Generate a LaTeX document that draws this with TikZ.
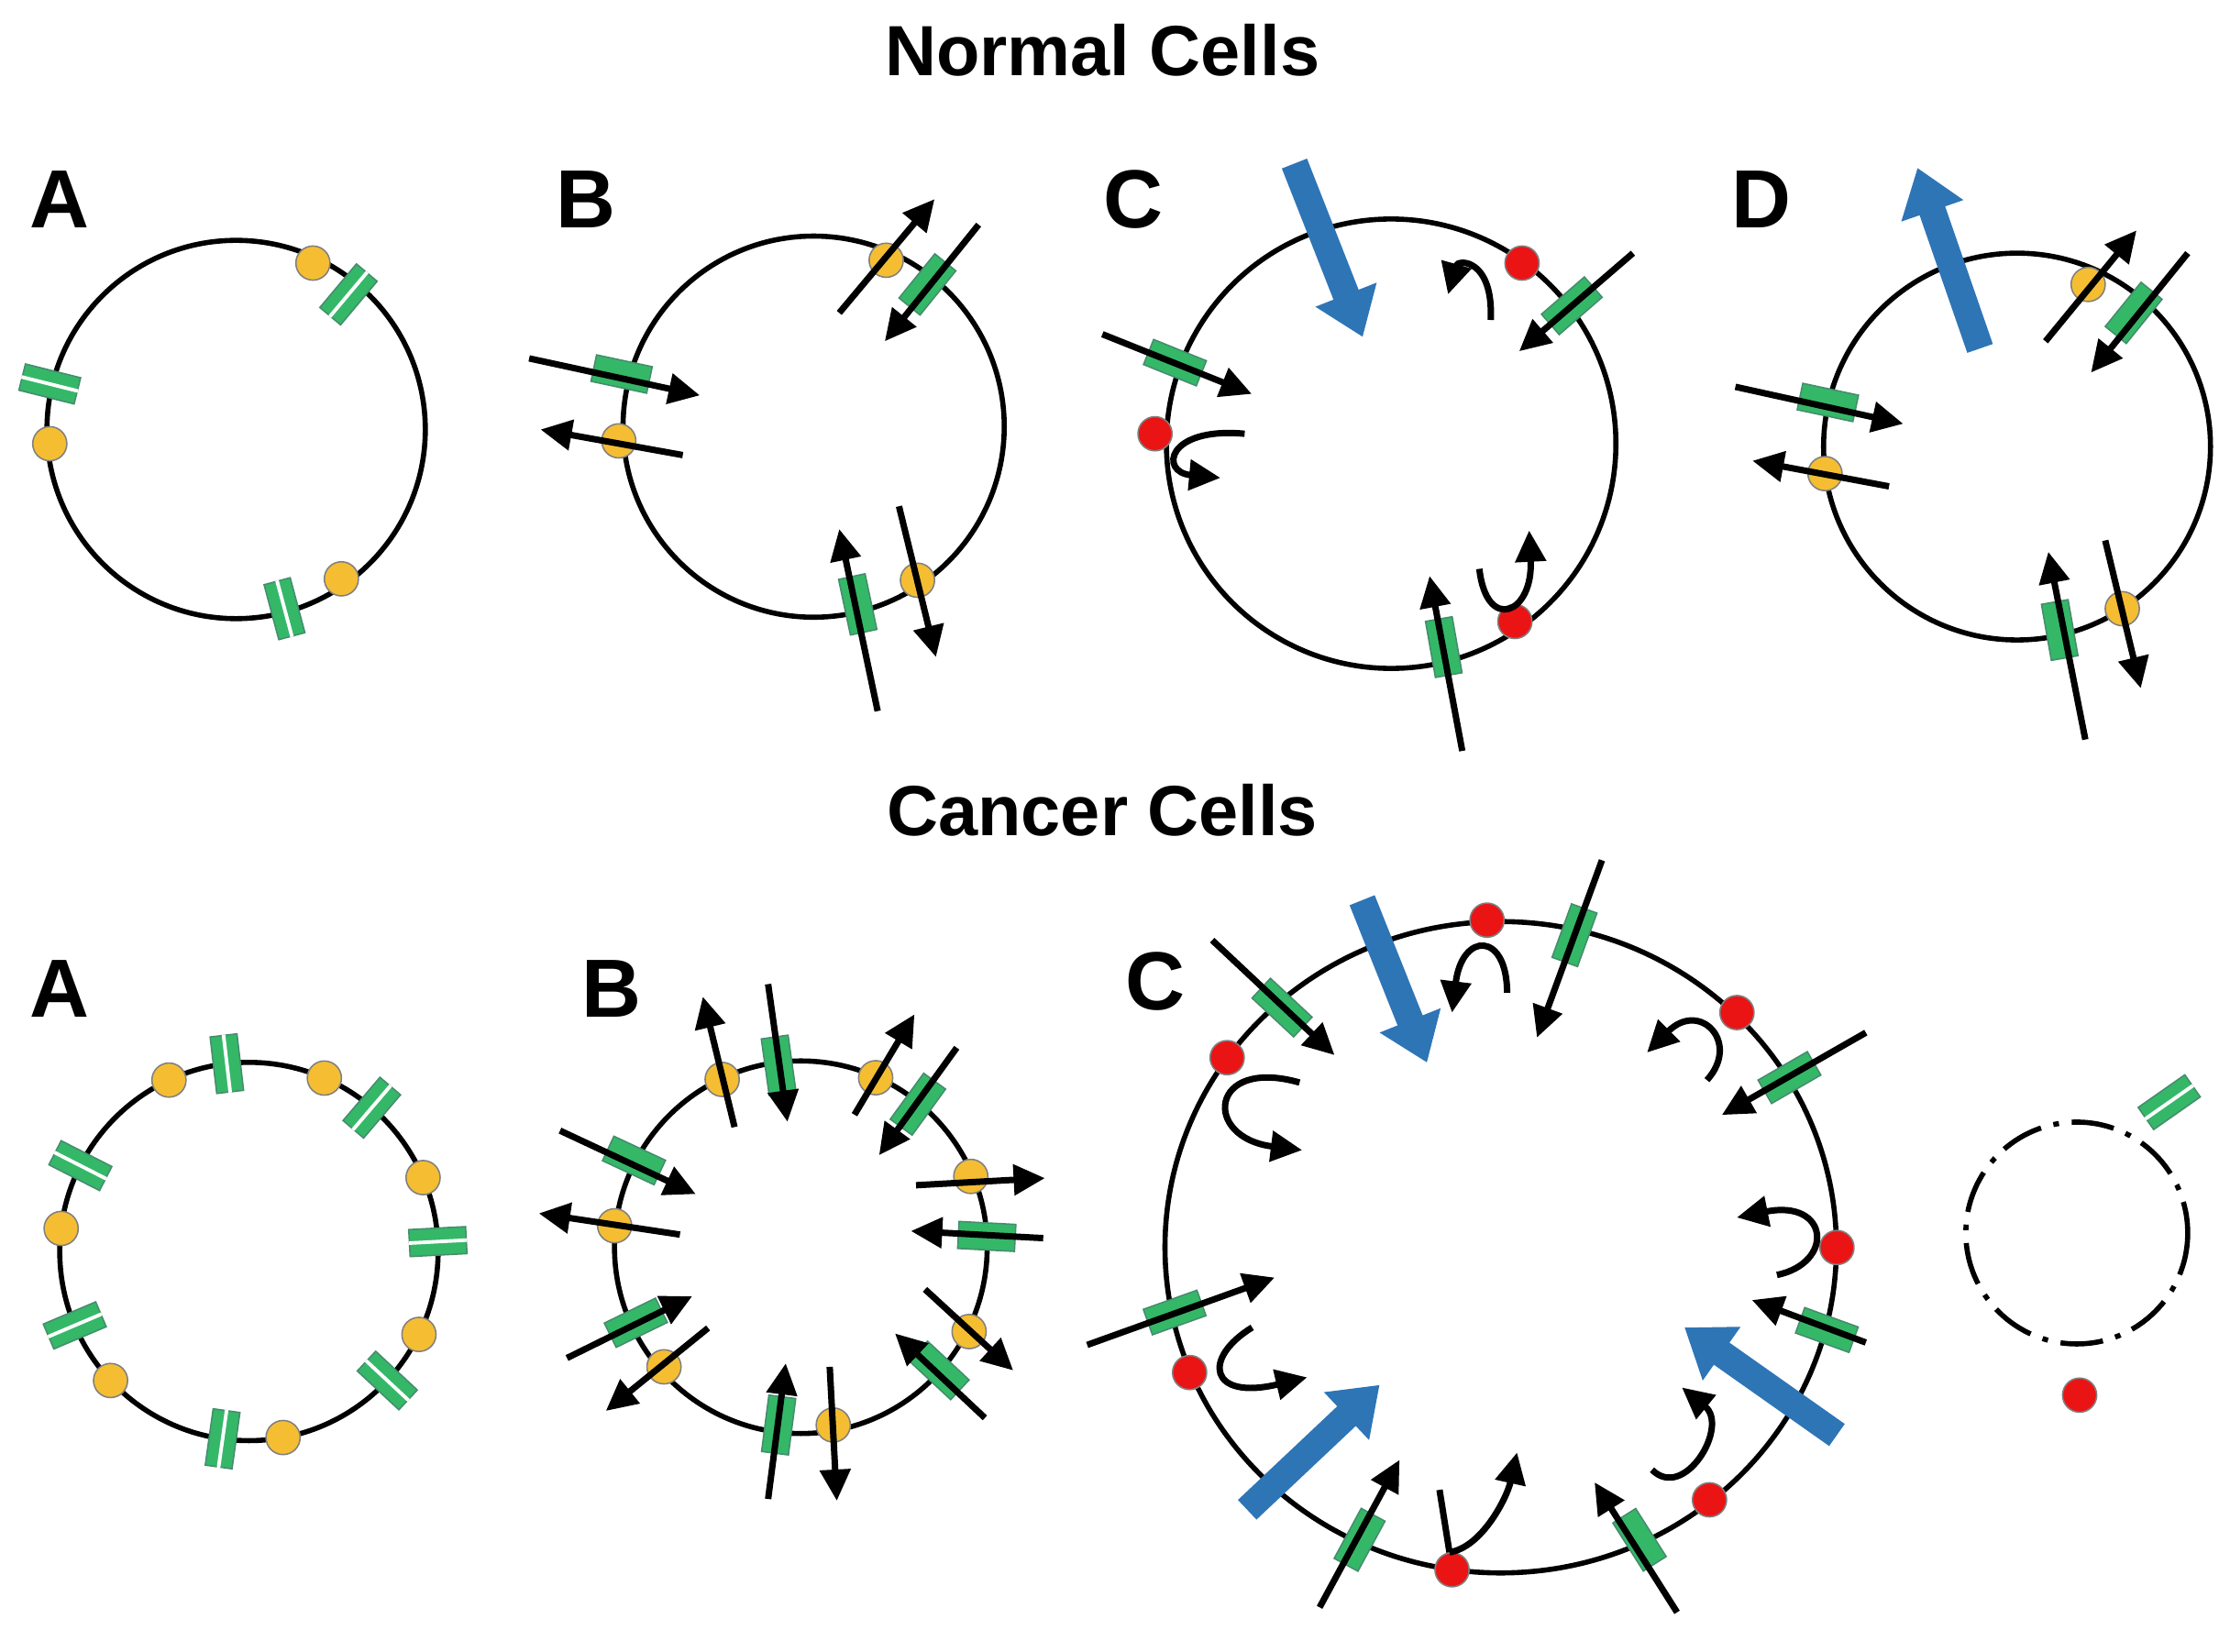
\documentclass[tikz,border=0pt]{standalone}
\usepackage{fontspec}
\setmainfont{Liberation Sans}
\usetikzlibrary{arrows.meta}
\definecolor{gr}{RGB}{52,184,104}
\definecolor{grb}{RGB}{70,140,110}
\definecolor{ye}{RGB}{245,190,50}
\definecolor{re}{RGB}{235,20,20}
\definecolor{bl}{RGB}{46,117,182}
\tikzset{
 chan/.style={rectangle,fill=gr,draw=grb,line width=1pt,minimum width=40pt,minimum height=19pt,inner sep=0pt},
 ydot/.style={circle,fill=ye,draw=gray,line width=1pt,minimum size=24pt,inner sep=0pt},
 rdot/.style={circle,fill=re,draw=gray,line width=1pt,minimum size=24pt,inner sep=0pt},
 arr/.style={line width=4.5pt,-{Triangle[length=22pt,width=21pt]}},
 barr/.style={bl,line width=19pt,-{Triangle[length=32pt,width=44pt]}},
 mem/.style={line width=3.6pt},
 lab/.style={font=\fontsize{58}{62}\selectfont\bfseries},
 ttl/.style={font=\fontsize{50}{56}\selectfont\bfseries}
}
\newcommand\ch[4]{\node[chan,rotate=#4] (#1) at ({#2},{#3}) {};}
\newcommand\gch[4]{\ch{#1}{#2}{#3}{#4}\draw[white,line width=2.5pt] (#1.west)--(#1.east);}
\newcommand\yd[3]{\node[ydot] (#1) at ({#2},{#3}) {};}
\newcommand\rd[3]{\node[rdot] (#1) at ({#2},{#3}) {};}
\begin{document}
\begin{tikzpicture}[x=1pt,y=-1pt]
\useasboundingbox[fill=white] (0,0) rectangle (1560,1161);
% titles
\node[ttl] (t1) at (775,35) {Normal Cells};
\node[ttl] (t2) at (775,570) {Cancer Cells};
\node[lab] (la1) at (42,140) {A};
\node[lab] (lb1) at (412,140) {B};
\node[lab] (lc1) at (797,140) {C};
\node[lab] (ld1) at (1238,140) {D};
\node[lab] (la2) at (42,695) {A};
\node[lab] (lb2) at (430,695) {B};
\node[lab] (lc2) at (812,690) {C};
% membranes
\draw[mem] (166,302) circle [radius=133];
\draw[mem] (572,300) circle [radius=134];
\draw[mem] (978,312) circle [radius=158];
\draw[mem] (1418,314) circle [radius=136];
\draw[mem] (175,880) circle [radius=133];
\draw[mem] (563,877) circle [radius=131];
\draw[mem] (1055,877) ellipse [x radius=236,y radius=229];
\draw[line width=3.6pt,dash pattern=on 30pt off 9pt on 4pt off 9pt] (1460,867) circle [radius=78];
% ---------- top A
\yd{a1}{220}{185} \gch{a2}{245}{207}{50}
\gch{a3}{35}{270}{166} \yd{a4}{35}{312}
\gch{a5}{200}{428}{-75} \yd{a6}{240}{407}
% ---------- top B
\ch{b1}{437}{263}{-12} \yd{b2}{435}{310}
\yd{b3}{623}{183} \ch{b4}{652}{200}{51}
\ch{b5}{603}{425}{102} \yd{b6}{645}{408}
\draw[arr] (372,252) -- (492,278);
\draw[arr] (480,320) -- (380,302);
\draw[arr] (590,220) -- (657,140);
\draw[arr] (688,158) -- (622,240);
\draw[arr] (617,500) -- (590,372);
\draw[arr] (632,356) -- (658,462);
% ---------- top C
\ch{c1}{826}{255}{-22} \rd{c2}{812}{305}
\rd{c3}{1070}{185} \ch{c4}{1105}{215}{41}
\ch{c5}{1015}{455}{100} \rd{c6}{1065}{437}
\draw[barr] (910,115) -- (958,237);
\draw[arr] (775,235) -- (880,277);
\draw[arr] (875,305) .. controls (820,300) and (815,332) .. (858,336);
\draw[arr] (1048,225) .. controls (1050,182) and (1025,182) .. (1018,207);
\draw[arr] (1148,178) -- (1068,247);
\draw[arr] (1028,528) -- (1005,405);
\draw[arr] (1040,400) .. controls (1045,445) and (1078,432) .. (1075,373);
% ---------- top D
\ch{d1}{1285}{283}{-12} \yd{d2}{1283}{333}
\yd{d3}{1468}{200} \ch{d4}{1500}{220}{51}
\ch{d5}{1448}{443}{100} \yd{d6}{1492}{428}
\draw[barr] (1392,245) -- (1348,118);
\draw[arr] (1220,272) -- (1338,298);
\draw[arr] (1328,342) -- (1232,324);
\draw[arr] (1438,240) -- (1502,162);
\draw[arr] (1538,178) -- (1470,262);
\draw[arr] (1466,520) -- (1440,388);
\draw[arr] (1480,380) -- (1505,484);
% ---------- bottom A
\foreach \a [count=\i] in {96.7,49.5,3,-43,-98,-157,153}
  {\gch{ga\i}{175+133*cos(\a)}{880-133*sin(\a)}{\a}}
\foreach \a [count=\i] in {115,66.5,23,-26,-79.6,-137,173}
  {\yd{ya\i}{175+133*cos(\a)}{880-133*sin(\a)}}
% ---------- bottom B
\yd{e1}{507.7}{759} \ch{e2}{547.4}{749}{-82}
\yd{e3}{615.6}{757.8} \ch{e4}{645.3}{776.4}{54}
\yd{e5}{682.5}{827.2} \ch{e6}{693.7}{869.4}{-3}
\yd{e7}{681.3}{936.3} \ch{e8}{660.2}{963.6}{-43}
\yd{e9}{585.8}{1002} \ch{e10}{547.4}{1002}{82.6}
\yd{e11}{466.8}{961.1} \ch{e12}{447}{930.1}{26}
\yd{e13}{432.1}{861.9} \ch{e14}{445.7}{816}{-25}
\draw[arr] (516.4,792.5) -- (494.1,700.8);
\draw[arr] (540,692) -- (553.6,788.8);
\draw[arr] (600.7,783.8) -- (642.9,713.2);
\draw[arr] (672.6,736.7) -- (618,812.3);
\draw[arr] (644,833.4) -- (734.6,828.4);
\draw[arr] (733.4,870.6) -- (640.4,865.6);
\draw[arr] (650.3,906.6) -- (712.3,963.6);
\draw[arr] (692.4,997) -- (629.2,937.6);
\draw[arr] (583.3,961.1) -- (588.3,1055.3);
\draw[arr] (540,1054) -- (552.4,958.6);
\draw[arr] (497.8,933.8) -- (425.9,992.1);
\draw[arr] (398.6,954.9) -- (486.6,911.5);
\draw[arr] (478,868.1) -- (378.8,853.2);
\draw[arr] (393.7,795) -- (489.1,839.6);
% ---------- bottom C
\ch{f1}{901.3}{708.5}{-43} \rd{f2}{862.7}{743.7}
\rd{f3}{1045.4}{647} \ch{f4}{1106.9}{657.6}{70}
\rd{f5}{1221.1}{712} \ch{f6}{1258}{757.7}{30}
\rd{f7}{1291.4}{877.2} \ch{f8}{1284.3}{935.2}{-20}
\rd{f9}{1201.8}{1054.6} \ch{f10}{1152.6}{1082.7}{-57.6}
\rd{f11}{1020.8}{1103.8} \ch{f12}{955.8}{1082.7}{61.6}
\rd{f13}{836.3}{965.1} \ch{f14}{825.8}{922.9}{19.6}
\draw[barr] (957.6,633) -- (1003.2,747.2);
\draw[barr] (1291.4,1009) -- (1184.2,933.4);
\draw[barr] (876.8,1061.6) -- (969.9,973.8);
\draw[arr] (852.2,661.1) -- (938.2,741.9);
\draw[arr] (913.6,761.2) .. controls (850,743) and (845,800) .. (915.4,808.7);
\draw[arr] (1059.5,698) .. controls (1059.5,655) and (1027.8,655) .. (1020.8,712);
\draw[arr] (1126.2,604.9) -- (1080.5,729.6);
\draw[arr] (1200,759.5) .. controls (1224,733) and (1195,703) .. (1157.9,740.1);
\draw[arr] (1311.7,726.1) -- (1210.5,784);
\draw[arr] (1249.2,896.5) .. controls (1290,888) and (1286,843) .. (1221,856.1);
\draw[arr] (1311.7,944) -- (1231.6,914.1);
\draw[arr] (1161.4,1033.5) .. controls (1184,1056) and (1216,1003) .. (1182.4,975.6);
\draw[arr] (1179,1133.7) -- (1121,1042.3);
\draw[line width=4.5pt] (1012,1047.6) -- (1019,1091.5);
\draw[arr] (1019,1091.5) .. controls (1041.9,1088) and (1059.5,1052.9) .. (1066.5,1021.3);
\draw[arr] (927.7,1130.2) -- (983.9,1026.5);
\draw[arr] (880.3,933.4) .. controls (845,955) and (850,985) .. (918.9,968.5);
\draw[arr] (764.3,945.7) -- (896.1,898.3);
% ---------- legend
\gch{g1}{1525}{775}{35}
\rd{r1}{1462}{981}
\end{tikzpicture}
\end{document}
